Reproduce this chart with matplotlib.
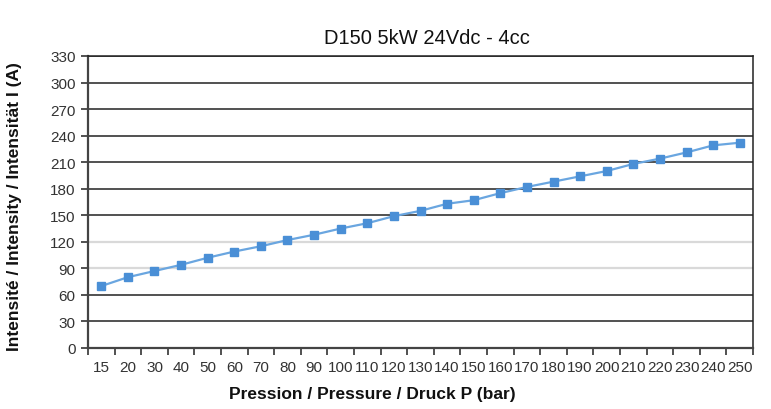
import matplotlib
matplotlib.use("Agg")
import matplotlib.pyplot as plt
import numpy as np

plt.rcParams['font.family'] = ['Liberation Sans', 'DejaVu Sans']

pressure = ["15", "20", "30", "40", "50", "60", "70", "80", "90", "100", "110", "120",
            "130", "140", "150", "160", "170", "180", "190", "200", "210", "220", "230", "240", "250"]
current = [70, 80, 87, 94, 102, 109, 115, 122, 128, 135, 141, 149,
           155, 163, 167, 175, 182, 188, 194, 200, 208, 214, 221, 229, 232]
yticks = list(range(0, 331, 30))
title = "D150 5kW 24Vdc - 4cc"
xlabel = "Pression / Pressure / Druck P (bar)"
ylabel = "Intensité / Intensity / Intensität I (A)"

fig = plt.figure(figsize=(7.71, 4.10), dpi=100)
ax = fig.add_axes([0.1141, 0.1488, 0.8626, 0.7122])

x = np.arange(len(pressure))
ax.plot(x, current, color='#6aa6e0', lw=1.6, marker='s', ms=5.5,
        mfc='#4a8fd6', mec='#4a8fd6', zorder=3)

ax.set_xlim(-0.5, len(pressure) - 0.5)
ax.set_ylim(0, 330)
ax.set_yticks(yticks)
ax.set_yticklabels([str(v) for v in yticks], fontsize=11, color='#333333')
ax.set_xticks(x)
ax.set_xticklabels(pressure, fontsize=11, color='#333333')
ax.tick_params(axis='x', length=0, pad=9)
ax.set_xticks(np.arange(-0.5, len(pressure)), minor=True)
ax.tick_params(axis='x', which='minor', length=5, width=1.2, color='#333333', direction='out')
ax.tick_params(axis='y', length=5, width=1.2, color='#333333', direction='out', pad=4)

for v in yticks[1:]:
    c = '#d9d9d9' if v in (90, 120) else '#222222'
    lw = 1.6 if v in (90, 120) else 1.1
    ax.axhline(v, color=c, lw=lw, zorder=1)

for s in ax.spines.values():
    s.set_color('#222222')
    s.set_linewidth(1.1)
ax.spines['left'].set_color('#444444')
ax.spines['left'].set_linewidth(1.6)
ax.spines['bottom'].set_color('#444444')
ax.spines['bottom'].set_linewidth(1.6)

fig.text(0.554, 0.907, title, fontsize=14.5, ha='center', va='center', color='#111111')
fig.text(0.483, 0.037, xlabel, fontsize=12.5, fontweight='bold', ha='center', va='center', color='#111111')
fig.text(0.019, 0.497, ylabel, fontsize=12.5, fontweight='bold', ha='center', va='center',
         rotation=90, color='#111111')

fig.savefig("out.png", dpi=100)
